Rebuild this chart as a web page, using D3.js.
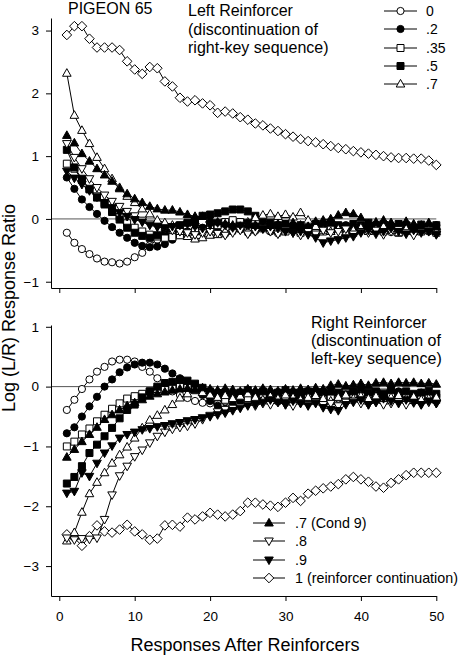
<!DOCTYPE html>
<html><head><meta charset="utf-8">
<script src="https://cdn.jsdelivr.net/npm/d3@7"></script>
<style>
body{margin:0;background:#fff;}
svg{display:block;font-family:"Liberation Sans",Arial,sans-serif;}
</style></head>
<body>
<svg id="c" width="464" height="655"></svg>
<script>
// ---------- data ----------
const responses = d3.range(1, 51);
const xTicks = [0, 10, 20, 30, 40, 50];
const topYTicks = [-1, 0, 1, 2, 3];
const botYTicks = [-3, -2, -1, 0, 1];

const seriesKeys = ["0", ".2", ".35", ".5", ".7", ".7 (Cond 9)", ".8", ".9", "1 (reinforcer continuation)"];
const seriesMarkers = ["circleOpen", "circleFilled", "squareOpen", "squareFilled", "triUpOpen", "triUpFilled", "triDownOpen", "triDownFilled", "diamondOpen"];

// Top panel: Left Reinforcer
const top_0   = [-0.22,-0.38,-0.48,-0.56,-0.63,-0.68,-0.69,-0.71,-0.68,-0.61,-0.54,-0.42,-0.33,-0.27,-0.24,-0.22,-0.25,-0.2,-0.22,-0.18,-0.2,-0.24,-0.2,-0.17,-0.22,-0.19,-0.15,-0.2,-0.23,-0.18,-0.14,-0.2,-0.16,-0.22,-0.18,-0.2,-0.15,-0.19,-0.22,-0.17,-0.2,-0.14,-0.18,-0.21,-0.16,-0.19,-0.22,-0.17,-0.2,-0.18];
const top_2   = [0.66,0.48,0.31,0.19,0.08,-0.03,-0.13,-0.22,-0.3,-0.38,-0.43,-0.45,-0.44,-0.4,-0.33,-0.25,-0.2,-0.17,-0.14,-0.1,-0.12,-0.08,-0.1,-0.06,-0.1,-0.14,-0.12,-0.16,-0.2,-0.15,-0.12,-0.18,-0.14,-0.1,-0.16,-0.2,-0.13,-0.1,-0.15,-0.18,-0.12,-0.09,-0.14,-0.1,-0.16,-0.13,-0.18,-0.12,-0.15,-0.1];
const top_35  = [0.88,0.8,0.62,0.48,0.36,0.25,0.14,0.03,-0.07,-0.14,-0.2,-0.25,-0.28,-0.3,-0.29,-0.26,-0.22,-0.2,-0.16,-0.13,-0.1,-0.05,-0.02,-0.05,-0.08,-0.12,-0.15,-0.18,-0.14,-0.2,-0.17,-0.22,-0.18,-0.15,-0.2,-0.16,-0.12,-0.18,-0.22,-0.15,-0.19,-0.14,-0.2,-0.17,-0.22,-0.18,-0.14,-0.2,-0.17,-0.22];
const top_5   = [1.1,0.82,0.64,0.47,0.34,0.23,0.11,-0.01,-0.14,-0.22,-0.27,-0.3,-0.26,-0.2,-0.15,-0.1,-0.06,-0.02,0.05,0.07,0.09,0.12,0.15,0.15,0.12,0.05,-0.02,-0.06,-0.1,-0.08,-0.12,-0.1,-0.14,-0.08,-0.11,-0.06,-0.1,-0.12,-0.08,-0.1,-0.06,-0.11,-0.09,-0.13,-0.08,-0.1,-0.14,-0.09,-0.12,-0.1];
const top_7   = [2.32,1.65,1.41,1.2,0.98,0.8,0.64,0.5,0.36,0.26,0.16,0.08,-0.02,-0.06,-0.1,-0.2,-0.28,-0.32,-0.3,-0.26,-0.25,-0.2,-0.15,-0.12,-0.05,0.02,0.06,0.08,0.04,0.07,0.03,0.1,-0.02,-0.12,-0.18,-0.2,-0.16,-0.22,-0.18,-0.14,-0.2,-0.17,-0.12,-0.18,-0.22,-0.16,-0.2,-0.15,-0.18,-0.2];
const top_7c  = [1.33,1.21,1.04,0.92,0.8,0.7,0.6,0.48,0.4,0.32,0.26,0.2,0.16,0.14,0.14,0.11,0.07,0.04,0.04,0.0,-0.05,-0.08,-0.1,-0.12,-0.08,-0.1,-0.14,-0.12,-0.08,-0.1,-0.06,-0.1,-0.12,-0.04,-0.02,0.0,0.06,0.1,0.08,0.02,-0.08,-0.05,-0.02,-0.06,-0.1,-0.04,-0.08,-0.1,-0.06,-0.12];
const top_8   = [1.2,0.98,0.8,0.64,0.5,0.38,0.28,0.2,0.12,0.05,-0.02,-0.08,-0.12,-0.15,-0.18,-0.2,-0.22,-0.25,-0.22,-0.2,-0.23,-0.26,-0.22,-0.18,-0.24,-0.2,-0.15,-0.2,-0.24,-0.18,-0.22,-0.26,-0.2,-0.24,-0.18,-0.22,-0.2,-0.16,-0.24,-0.2,-0.22,-0.18,-0.25,-0.2,-0.17,-0.22,-0.26,-0.2,-0.18,-0.24];
const top_9   = [0.76,0.65,0.55,0.45,0.35,0.26,0.18,0.1,0.04,-0.01,-0.05,-0.1,-0.13,-0.14,-0.12,-0.1,-0.08,-0.12,-0.15,-0.1,-0.06,-0.1,-0.14,-0.1,-0.06,-0.12,-0.16,-0.12,-0.15,-0.2,-0.22,-0.2,-0.25,-0.3,-0.38,-0.35,-0.33,-0.3,-0.28,-0.22,-0.18,-0.24,-0.2,-0.15,-0.2,-0.24,-0.18,-0.22,-0.2,-0.25];
const top_1   = [2.93,3.07,3.07,2.87,2.73,2.73,2.73,2.69,2.51,2.38,2.31,2.42,2.40,2.19,2.11,1.93,1.87,1.89,1.84,1.81,1.69,1.71,1.68,1.62,1.58,1.52,1.49,1.44,1.4,1.35,1.31,1.27,1.24,1.22,1.19,1.16,1.13,1.11,1.08,1.06,1.04,1.02,1.0,0.98,0.97,0.97,0.96,0.96,0.93,0.86];

// Bottom panel: Right Reinforcer
const bot_0   = [-0.39,-0.22,-0.04,0.12,0.25,0.33,0.42,0.45,0.45,0.42,0.33,0.25,0.14,0.04,-0.08,-0.14,-0.19,-0.24,-0.27,-0.28,-0.28,-0.25,-0.2,-0.22,-0.25,-0.2,-0.18,-0.22,-0.25,-0.2,-0.16,-0.22,-0.18,-0.24,-0.2,-0.16,-0.2,-0.22,-0.17,-0.14,-0.18,-0.2,-0.15,-0.18,-0.22,-0.18,-0.2,-0.16,-0.2,-0.22];
const bot_2   = [-0.78,-0.68,-0.5,-0.33,-0.17,0.0,0.12,0.24,0.32,0.37,0.4,0.4,0.37,0.3,0.22,0.14,0.06,-0.04,-0.14,-0.24,-0.32,-0.37,-0.3,-0.24,-0.2,-0.16,-0.22,-0.18,-0.14,-0.2,-0.16,-0.1,-0.14,-0.18,-0.12,-0.1,-0.16,-0.12,-0.08,-0.12,-0.16,-0.1,-0.14,-0.12,-0.08,-0.12,-0.15,-0.1,-0.12,-0.14];
const bot_35  = [-1.0,-0.92,-0.8,-0.7,-0.58,-0.47,-0.37,-0.28,-0.2,-0.16,-0.12,-0.08,-0.04,-0.02,0.0,0.01,-0.02,-0.06,-0.1,-0.14,-0.18,-0.22,-0.18,-0.14,-0.2,-0.16,-0.12,-0.18,-0.22,-0.16,-0.12,-0.18,-0.14,-0.1,-0.16,-0.2,-0.14,-0.1,-0.16,-0.12,-0.18,-0.14,-0.1,-0.15,-0.2,-0.16,-0.12,-0.18,-0.2,-0.22];
const bot_5   = [-1.62,-1.51,-1.33,-1.11,-0.97,-0.83,-0.69,-0.53,-0.39,-0.3,-0.18,-0.08,0.0,0.06,0.08,0.11,0.1,0.05,-0.02,-0.08,-0.12,-0.1,-0.14,-0.1,-0.06,-0.12,-0.08,-0.14,-0.1,-0.06,-0.1,-0.14,-0.08,-0.12,-0.1,-0.06,-0.1,-0.13,-0.08,-0.05,-0.1,-0.08,-0.12,-0.06,-0.1,-0.08,-0.13,-0.1,-0.07,-0.12];
const bot_7   = [-2.58,-2.44,-2.1,-1.79,-1.6,-1.44,-1.28,-1.14,-1.01,-0.86,-0.69,-0.56,-0.48,-0.39,-0.3,-0.19,-0.12,-0.06,-0.1,-0.14,-0.18,-0.15,-0.2,-0.16,-0.12,-0.18,-0.22,-0.16,-0.2,-0.14,-0.18,-0.22,-0.18,-0.15,-0.2,-0.24,-0.18,-0.14,-0.2,-0.16,-0.2,-0.16,-0.22,-0.18,-0.15,-0.2,-0.17,-0.22,-0.2,-0.18];
const bot_7c  = [-1.18,-1.05,-0.92,-0.8,-0.68,-0.55,-0.47,-0.39,-0.32,-0.27,-0.22,-0.16,-0.12,-0.09,-0.06,-0.04,-0.03,-0.05,-0.02,-0.04,-0.06,-0.03,-0.05,-0.08,-0.04,-0.06,-0.03,-0.05,-0.07,-0.04,-0.06,-0.03,-0.05,-0.02,-0.04,0.02,0.04,0.01,0.03,0.05,0.02,0.06,0.07,0.05,0.07,0.06,0.07,0.05,0.06,0.04];
const bot_8   = [-2.53,-2.56,-2.54,-2.55,-2.53,-2.22,-1.81,-1.49,-1.33,-1.17,-1.06,-0.94,-0.83,-0.76,-0.71,-0.68,-0.66,-0.62,-0.55,-0.48,-0.42,-0.38,-0.36,-0.34,-0.3,-0.32,-0.28,-0.3,-0.26,-0.3,-0.32,-0.27,-0.3,-0.26,-0.3,-0.28,-0.32,-0.26,-0.24,-0.28,-0.3,-0.26,-0.3,-0.28,-0.25,-0.3,-0.27,-0.3,-0.26,-0.28];
const bot_9   = [-1.78,-1.75,-1.44,-1.5,-1.28,-1.11,-0.99,-0.86,-0.8,-0.76,-0.72,-0.7,-0.67,-0.65,-0.62,-0.6,-0.57,-0.55,-0.52,-0.5,-0.47,-0.44,-0.4,-0.36,-0.32,-0.3,-0.26,-0.22,-0.26,-0.3,-0.24,-0.28,-0.32,-0.28,-0.35,-0.38,-0.4,-0.3,-0.26,-0.22,-0.3,-0.26,-0.2,-0.24,-0.28,-0.22,-0.26,-0.3,-0.24,-0.28];
const bot_1   = [-2.47,-2.53,-2.66,-2.5,-2.32,-2.42,-2.44,-2.39,-2.31,-2.42,-2.47,-2.56,-2.54,-2.32,-2.31,-2.34,-2.19,-2.22,-2.17,-2.11,-2.14,-2.17,-2.14,-2.08,-1.94,-1.94,-1.97,-1.99,-2.01,-1.94,-1.86,-1.91,-1.79,-1.74,-1.7,-1.67,-1.63,-1.55,-1.51,-1.55,-1.59,-1.67,-1.69,-1.61,-1.55,-1.48,-1.44,-1.44,-1.44,-1.44];

const topSeries = [top_0, top_2, top_35, top_5, top_7, top_7c, top_8, top_9, top_1];
const botSeries = [bot_0, bot_2, bot_35, bot_5, bot_7, bot_7c, bot_8, bot_9, bot_1];
const topLegend = [0, 1, 2, 3, 4];
const botLegend = [5, 6, 7, 8];

// ---------- drawing ----------
const svg = d3.select("#c");
const FONT = '"Liberation Sans",Arial,sans-serif';

const x = d3.scaleLinear().domain([-1.1, 50]).range([51, 436.3]);
const yTop = d3.scaleLinear().domain([-1.1, 3.2]).range([288, 18]);
const yBot = d3.scaleLinear().domain([-3.5, 1.03]).range([596, 325]);

const markerPath = {
  circle: "M3.6,0A3.6,3.6 0 1,1 -3.6,0A3.6,3.6 0 1,1 3.6,0Z",
  square: "M-3.5,-3.5H3.5V3.5H-3.5Z",
  triUp: "M0,-4.6L4.3,3L-4.3,3Z",
  triDown: "M0,4.6L4.3,-3L-4.3,-3Z",
  diamond: "M0,-4.8L4.8,0L0,4.8L-4.8,0Z"
};
function markerInfo(name){
  const filled = name.endsWith("Filled");
  const shape = name.replace(/Open|Filled/, "");
  return {d: markerPath[shape], fill: filled ? "#000" : "#fff"};
}

function drawPanel(yScale, ticks, data, showXLabels){
  const g = svg.append("g");
  g.append("line").attr("x1", x.range()[0]).attr("x2", x(50))
    .attr("y1", yScale(0)).attr("y2", yScale(0))
    .attr("stroke", "#555").attr("stroke-width", 1);
  const ya = g.append("g").attr("transform", `translate(${x.range()[0]},0)`)
    .call(d3.axisLeft(yScale).tickValues(ticks).tickSize(5).tickSizeOuter(0).tickPadding(7).tickFormat(d3.format("d")));
  const xa = g.append("g").attr("transform", `translate(0,${yScale.range()[0]})`)
    .call(d3.axisBottom(x).tickValues(xTicks).tickSize(5).tickSizeOuter(0).tickPadding(10)
      .tickFormat(showXLabels ? d3.format("d") : () => ""));
  [ya, xa].forEach(a => {
    a.selectAll("text").attr("font-size", 13.5).attr("font-family", FONT).attr("fill", "#000");
    a.selectAll("path,line").attr("stroke", "#000");
  });
  const order = [8, 0, 1, 2, 3, 4, 5, 6, 7];
  const line = d3.line().x((d, i) => x(responses[i])).y(d => yScale(d));
  order.forEach(si => {
    const vals = data[si];
    const m = markerInfo(seriesMarkers[si]);
    const sg = g.append("g");
    sg.append("path").attr("d", line(vals)).attr("fill", "none").attr("stroke", "#000").attr("stroke-width", 1);
    sg.selectAll("path.m").data(vals).join("path").attr("class", "m")
      .attr("transform", (d, i) => `translate(${x(responses[i])},${yScale(d)})`)
      .attr("d", m.d).attr("fill", m.fill).attr("stroke", "#000").attr("stroke-width", 1);
  });
}

drawPanel(yTop, topYTicks, topSeries, false);
drawPanel(yBot, botYTicks, botSeries, true);

function legend(items, lx1, lx2, tx, ys, fs){
  items.forEach((si, k) => {
    const y = ys[k];
    const m = markerInfo(seriesMarkers[si]);
    svg.append("line").attr("x1", lx1).attr("x2", lx2).attr("y1", y).attr("y2", y).attr("stroke", "#000");
    svg.append("path").attr("transform", `translate(${(lx1 + lx2) / 2},${y})`).attr("d", m.d)
      .attr("fill", m.fill).attr("stroke", "#000");
    svg.append("text").attr("x", tx).attr("y", y).attr("dy", "0.36em").attr("font-size", fs)
      .attr("font-family", FONT).text(seriesKeys[si]);
  });
}
legend(topLegend, 384, 417, 426, [11, 29, 48, 66, 84], 14);
legend(botLegend, 253, 285, 295, [523, 541, 560, 578], 14.3);

svg.append("text").attr("x", 68).attr("y", 14).attr("font-size", 16).attr("font-family", FONT).text("PIGEON 65");
const leftLines = ["Left Reinforcer", "(discontinuation of", "right-key sequence)"];
leftLines.forEach((t, i) => svg.append("text").attr("x", 188).attr("y", 16 + i * 18.5)
  .attr("font-size", 16).attr("font-family", FONT).text(t));
const rightLines = ["Right Reinforcer", "(discontinuation of", "left-key sequence)"];
rightLines.forEach((t, i) => svg.append("text").attr("x", 311).attr("y", 328 + i * 18)
  .attr("font-size", 16).attr("font-family", FONT).text(t));

svg.append("text").attr("x", 245).attr("y", 651).attr("text-anchor", "middle")
  .attr("font-size", 18).attr("font-family", FONT).text("Responses After Reinforcers");
svg.append("text").attr("transform", "translate(15,308) rotate(-90)").attr("text-anchor", "middle")
  .attr("font-size", 18).attr("font-family", FONT).text("Log (L/R) Response Ratio");
</script>
</body></html>
